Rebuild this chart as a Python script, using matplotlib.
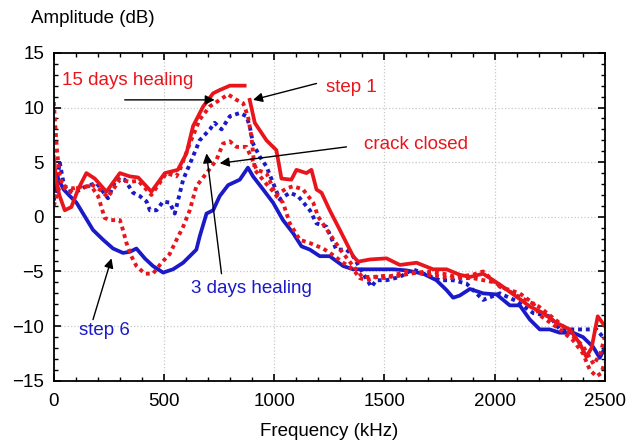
import numpy as np
import matplotlib
matplotlib.use("Agg")
import matplotlib.pyplot as plt
from matplotlib.ticker import MultipleLocator

matplotlib.rc('font', family=['Liberation Sans', 'DejaVu Sans'])

#%%
# step 1 (red solid), nan = break in the line near the peak
f_step1 = [0, 10, 25, 50, 80, 110, 148, 186, 239, 300, 345, 383, 443, 504, 563, 602, 632, 678, 723, 753, 799, 866,
           877, 889, 912, 965, 1010, 1033, 1078, 1101, 1146, 1169, 1192, 1215, 1252, 1298, 1358, 1381, 1434, 1510,
           1570, 1646, 1721, 1782, 1842, 1888, 1948, 2024, 2099, 2160, 2220, 2281, 2341, 2387, 2416, 2440, 2468, 2500]
a_step1 = [5.5, 3.5, 2.0, 0.6, 0.9, 2.5, 4.0, 3.5, 2.3, 4.0, 3.7, 3.6, 2.3, 4.0, 4.3, 5.8, 8.3, 10.1, 11.3, 11.6, 12.0, 12.0,
           np.nan, 10.7, 8.6, 7.0, 6.1, 3.5, 3.4, 4.3, 4.0, 4.3, 2.5, 2.2, 0.6, -1.2, -3.6, -4.1, -3.9, -3.8,
           -4.4, -4.2, -4.8, -4.8, -5.3, -5.5, -5.2, -6.2, -7.3, -8.2, -8.8, -9.7, -10.3, -11.6, -12.8, -12.0, -9.1, -10.0]

# 15 days healing (red dotted)
f_15d = [0, 8, 15, 25, 40, 70, 100, 130, 177, 215, 245, 300, 345, 383, 443, 511, 556, 572, 617, 662, 708, 753, 791, 829,
         859, 881, 897, 912, 965, 1010, 1056, 1086, 1131, 1177, 1200, 1250, 1300, 1350, 1400, 1450, 1500, 1540, 1615,
         1691, 1767, 1827, 1900, 1948, 2024, 2114, 2175, 2205, 2296, 2356, 2401, 2432, 2462, 2484, 2500]
a_15d = [10.5, 8.0, 6.0, 4.0, 2.8, 2.3, 2.6, 2.7, 2.9, 2.4, 1.8, 3.4, 3.2, 3.3, 2.0, 4.0, 3.7, 4.3, 6.7, 8.9, 10.1, 10.7, 11.2, 10.7,
         10.4, 9.2, 7.3, 4.3, 3.0, 2.0, 2.6, 2.8, 2.5, 1.3, 0.0, -1.5, -3.0, -4.3, -5.5, -5.5, -5.4, -5.5, -5.2,
         -5.0, -5.2, -5.5, -5.3, -5.0, -6.4, -7.0, -7.9, -9.0, -10.3, -11.3, -12.5, -14.0, -14.6, -14.3, -13.3]

# crack closed (red dotted)
f_closed = [0, 20, 42, 88, 133, 170, 201, 216, 231, 254, 300, 314, 330, 352, 375, 413, 450, 489, 526, 557, 587, 617,
            647, 693, 738, 768, 799, 829, 874, 904, 920, 965, 1010, 1040, 1071, 1116, 1162, 1222, 1267, 1313, 1358,
            1388, 1419, 1464, 1500, 1600, 1700, 1800, 1900, 2000, 2100, 2200, 2300, 2400, 2450, 2480, 2500]
a_closed = [1.0, 2.5, 2.8, 2.6, 2.8, 2.8, 1.9, 0.9, -0.1, -0.3, -0.3, -1.2, -2.4, -3.6, -4.5, -5.2, -5.2, -4.2, -3.4, -2.1, -0.9, 0.6,
            2.8, 4.0, 5.2, 6.7, 6.9, 6.4, 6.4, 5.1, 4.3, 4.0, 1.9, 1.3, -0.6, -2.1, -2.4, -2.9, -3.5, -4.2, -4.8,
            -5.6, -5.8, -5.5, -5.6, -5.0, -5.3, -5.6, -5.6, -6.0, -7.2, -8.2, -9.8, -11.8, -13.5, -12.5, -11.0]

# 3 days healing (blue dotted)
f_3d = [0, 10, 27, 45, 65, 103, 148, 194, 246, 284, 322, 360, 390, 421, 436, 466, 496, 526, 549, 587, 625, 662, 708,
        730, 761, 799, 844, 874, 889, 904, 935, 965, 995, 1025, 1071, 1108, 1162, 1192, 1237, 1282, 1328, 1358, 1404,
        1441, 1464, 1510, 1570, 1630, 1691, 1751, 1812, 1872, 1948, 2024, 2099, 2175, 2250, 2296, 2356, 2401, 2462,
        2492, 2500]
a_3d = [1.5, 2.5, 5.0, 3.0, 2.3, 2.3, 2.8, 3.1, 1.7, 3.5, 3.4, 2.2, 1.9, 1.4, 0.6, 0.6, 1.4, 1.3, 0.3, 3.4, 5.2, 7.0, 8.0,
        8.6, 8.0, 9.2, 9.5, 9.2, 8.3, 6.7, 5.5, 4.6, 3.1, 1.6, 2.2, 1.9, 0.6, -0.6, -0.9, -3.0, -3.0, -3.6, -5.2,
        -6.4, -5.8, -5.8, -5.5, -4.8, -5.3, -5.8, -5.8, -6.1, -7.6, -7.0, -7.7, -8.8, -9.1, -10.3, -10.3, -10.3, -10.3,
        -11.0, -11.0]

# step 6 (blue solid)
f_step6 = [0, 20, 45, 73, 103, 133, 178, 224, 269, 314, 345, 375, 413, 450, 496, 541, 587, 617, 647, 662, 693, 723,
           753, 791, 844, 881, 904, 950, 995, 1040, 1086, 1124, 1162, 1207, 1252, 1313, 1358, 1419, 1494, 1540, 1600,
           1676, 1736, 1782, 1812, 1842, 1888, 1948, 2009, 2069, 2114, 2160, 2205, 2250, 2296, 2356, 2401, 2447, 2477, 2500]
a_step6 = [2.5, 3.5, 2.5, 1.9, 1.3, 0.3, -1.2, -2.1, -2.9, -3.3, -3.2, -2.9, -3.8, -4.5, -5.1, -4.8, -4.2, -3.6, -3.0, -1.8, 0.3, 0.6,
           1.9, 2.9, 3.4, 4.5, 3.7, 2.5, 1.3, -0.3, -1.5, -2.7, -3.0, -3.6, -3.6, -4.5, -4.8, -4.8, -4.8, -4.8, -4.9,
           -5.2, -5.8, -6.7, -7.4, -7.2, -6.6, -7.0, -7.1, -8.1, -8.1, -9.4, -10.3, -10.3, -10.6, -10.6, -11.0, -11.9, -12.9, -12.0]

red = "#e8161c"
blue = "#1a1ac8"

#%%
fig = plt.figure(figsize=(6.4, 4.48), dpi=100)
ax = fig.add_axes([0.084, 0.150, 0.861, 0.732])

dot = (0, (1, 1))
ax.plot(f_step6, a_step6, color=blue, lw=2.7)
ax.plot(f_3d, a_3d, color=blue, lw=2.8, ls=dot)
ax.plot(f_closed, a_closed, color=red, lw=2.8, ls=dot)
ax.plot(f_15d, a_15d, color=red, lw=2.8, ls=dot)
ax.plot(f_step1, a_step1, color=red, lw=2.7)

ax.set_xlim(0, 2500)
ax.set_ylim(-15, 15)
ax.set_xticks(np.arange(0, 2501, 500))
ax.set_yticks(np.arange(-15, 16, 5))
ax.xaxis.set_minor_locator(MultipleLocator(100))
ax.yaxis.set_minor_locator(MultipleLocator(1))
ax.tick_params(which='both', direction='in', top=True, right=True, labelsize=13.5)
ax.tick_params(which='major', length=5, width=1.2)
ax.tick_params(which='minor', length=3, width=1.0)
ax.tick_params(axis='x', pad=9)
ax.tick_params(axis='y', pad=7)
ax.grid(True, which='major', ls=':', color='#c8c8c8', lw=0.9)
for s in ax.spines.values():
    s.set_linewidth(1.3)

ax.set_xlabel("Frequency (kHz)", fontsize=13.5, labelpad=9)
fig.text(0.048, 0.958, "Amplitude (dB)", fontsize=13.5, ha='left', va='center')

# labels with arrows
arr = dict(arrowstyle='-|>', color='black', lw=1.0, mutation_scale=14, shrinkA=0, shrinkB=0)
ax.text(336, 12.5, "15 days healing", color=red, fontsize=13.5, ha='center', va='center')
ax.annotate("", xy=(730, 10.7), xytext=(322, 10.7), arrowprops=arr)
ax.text(1352, 11.8, "step 1", color=red, fontsize=13.5, ha='center', va='center')
ax.annotate("", xy=(904, 10.7), xytext=(1192, 12.2), arrowprops=arr)
ax.text(1642, 6.6, "crack closed", color=red, fontsize=13.5, ha='center', va='center')
ax.annotate("", xy=(753, 4.9), xytext=(1328, 6.4), arrowprops=arr)
ax.text(899, -6.6, "3 days healing", color=blue, fontsize=13.5, ha='center', va='center')
ax.annotate("", xy=(693, 5.8), xytext=(761, -5.2), arrowprops=arr)
ax.text(231, -10.4, "step 6", color=blue, fontsize=13.5, ha='center', va='center')
ax.annotate("", xy=(262, -3.8), xytext=(178, -9.4), arrowprops=arr)

plt.savefig("out.png", dpi=100)
